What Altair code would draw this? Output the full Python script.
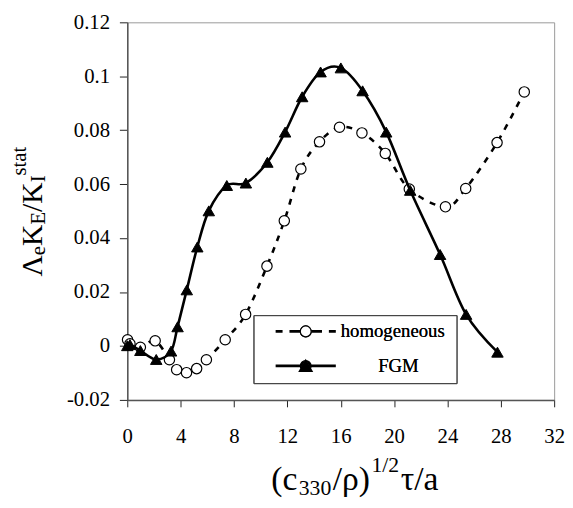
import altair as alt
import pandas as pd

# ---- data ----
hom_x = [0.02, 0.2, 0.98, 2.09, 3.16, 3.70, 4.44, 5.20, 5.93, 7.34, 8.87, 10.47, 11.77,
         13.01, 14.41, 15.91, 17.59, 19.34, 21.14, 23.85, 25.37, 27.72, 29.76]
hom_y = [0.0023, 0.0008, -0.0005, 0.0019, -0.0051, -0.0088, -0.0099, -0.0084, -0.0051,
         0.0023, 0.0117, 0.0296, 0.0464, 0.0656, 0.0757, 0.0811, 0.0790, 0.0714, 0.0582,
         0.0516, 0.0584, 0.0754, 0.0942]
fgm_x = [0.0, 0.2, 0.98, 2.17, 3.28, 3.77, 4.46, 5.25, 6.11, 7.46, 8.89, 10.50, 11.83,
         13.11, 14.49, 16.01, 17.64, 19.41, 21.21, 23.45, 25.40, 27.75]
fgm_y = [0.0001, 0.0005, -0.0017, -0.0050, -0.0019, 0.0071, 0.0208, 0.0367, 0.0501,
         0.0595, 0.0604, 0.0681, 0.0793, 0.0924, 0.1016, 0.1031, 0.0946, 0.0793, 0.0577,
         0.0339, 0.0117, -0.0023]
series_names = ["homogeneous", "FGM"]
line_keys = ["hom_line", "fgm_line"]
x_ticks = [0, 4, 8, 12, 16, 20, 24, 28, 32]
y_ticks = [-0.02, 0, 0.02, 0.04, 0.06, 0.08, 0.1, 0.12]

FONT = "Liberation Serif"
W, H = 433, 383

hom = pd.DataFrame({"x": hom_x, "y": hom_y})
fgm = pd.DataFrame({"x": fgm_x, "y": fgm_y})
ZW, NB = "\u200b", "\u00a0"
label_names = [series_names[0] + NB + ZW, ZW + NB * 8 + series_names[1]]
leg = pd.DataFrame({"la": line_keys, "lb": label_names})

xenc = alt.X("x:Q", scale=alt.Scale(domain=[0, 32], nice=False, zero=False),
             axis=alt.Axis(values=x_ticks, title=None, grid=False, labelFlush=False,
                           labelOverlap=False, tickSize=7, labelPadding=19,
                           labelFontSize=21, labelFont=FONT, labelColor="black",
                           domainColor="#555", domainWidth=1.5, tickColor="#222"))
yenc = alt.Y("y:Q", scale=alt.Scale(domain=[-0.02, 0.12], nice=False, zero=False),
             axis=alt.Axis(values=y_ticks, title=None, grid=False, tickSize=8,
                           labelPadding=10, labelFontSize=21, labelFont=FONT,
                           labelColor="black", domainColor="#555", domainWidth=1.5,
                           tickColor="#222",
                           labelExpr="replace(format(datum.value, '.2~f'), '\u2212', '-')"))

hom_line = alt.Chart(hom).mark_line(interpolate="cardinal", color="black", strokeWidth=2.6,
                                    strokeDash=[6, 7]).encode(x=xenc, y=yenc)
hom_pts = alt.Chart(hom).mark_point(shape="circle", filled=True, fill="white", stroke="black",
                                    strokeWidth=1.2, size=110, opacity=1).encode(x=xenc, y=yenc)
fgm_line = alt.Chart(fgm).mark_line(interpolate="cardinal", color="black",
                                    strokeWidth=2.6).encode(x=xenc, y=yenc)
fgm_pts = alt.Chart(fgm).mark_point(shape="triangle-up", filled=True, fill="black",
                                    stroke="black", strokeWidth=1, size=135,
                                    opacity=1).encode(x=xenc, y=yenc)

# ---- legend: two overlaid native legends (line samples + markers) ----
LX, LY = 128, 297
path_dash = "M-5.55,0L-4.27,0M-3,0L-1,0M1,0L3,0M4.27,0L5.55,0"
path_solid = "M-5.55,0L5.55,0"


def tri_path():
    # nested triangles so a thin stroke renders as a solid black triangle
    verts = [(0.0, -1.1), (1.2, 1.0), (-1.2, 1.0)]
    ix, iy = 0.0, 0.304
    parts = []
    for k in (1.0, 0.77, 0.54, 0.31, 0.1):
        p = [(ix + k * (vx - ix), iy + k * (vy - iy)) for vx, vy in verts]
        parts.append("M%.3f,%.3fL%.3f,%.3fL%.3f,%.3fZ" % (p[0] + p[1] + p[2]))
    return "".join(parts)


common = dict(orient="none", legendX=LX, legendY=LY, title=None, padding=7, rowPadding=15,
              symbolSize=121, labelFontSize=19, labelFont=FONT, labelColor="black",
              symbolOpacity=1, symbolOffset=36.5, labelOffset=26)

leg_lines = alt.Chart(leg).transform_filter("false").mark_point(
    filled=False, stroke="black", strokeWidth=2.6).encode(
    shape=alt.Shape("la:N", scale=alt.Scale(domain=line_keys, range=[path_dash, path_solid]),
                    legend=alt.Legend(labelOpacity=0, labelExpr="'" + NB + "'",
                                      symbolStrokeWidth=2.6, symbolStrokeColor="black",
                                      symbolFillColor="transparent", **common)))

lb_legend = alt.Legend(symbolStrokeWidth=1.2, symbolStrokeColor="black",
                       symbolFillColor="white", strokeColor="#444", **common)
leg_marks = alt.Chart(leg).transform_filter("false").mark_point(
    filled=True, stroke="black", strokeWidth=1.2).encode(
    shape=alt.Shape("lb:N", scale=alt.Scale(domain=label_names, range=["circle", tri_path()]),
                    legend=lb_legend),
    fill=alt.Fill("lb:N", scale=alt.Scale(domain=label_names, range=["white", "black"]),
                  legend=lb_legend))

# ---- titles with sub/superscripts ----
ADV = {"(": 0.333, ")": 0.333, "/": 0.278, "c": 0.444, "a": 0.444, "e": 0.444, "s": 0.389,
       "t": 0.278, "E": 0.611, "I": 0.333, "K": 0.722, "\u039b": 0.722, "\u03c1": 0.5,
       "\u03c4": 0.44, "0": 0.5, "1": 0.5, "2": 0.5, "3": 0.5}


def adv(s, size):
    return sum(ADV.get(ch, 0.5) for ch in s) * size


one = pd.DataFrame({"k": [0]})
texts = []

# x title
FX, SX = 34, 22
x_pieces = [("(c", FX, 0), ("330", SX, 5), ("/\u03c1)", FX, 0), ("1/2", SX, -18),
            ("\u03c4/a", FX, 0)]
cx = 146
for t, sz, sh in x_pieces:
    texts.append(alt.Chart(one).mark_text(text=t, font=FONT, fontSize=sz, align="left",
                                          baseline="alphabetic", color="black",
                                          x=cx, y=474 + sh))
    cx += adv(t, sz) + 1.5

# y title (rotated)
FY, SY = 30, 21
y_pieces = [("\u039b", FY, 0), ("e", SY, 4), ("K", FY, 0), ("E", SY, 4), ("/K", FY, 0),
            ("I", SY, 4), ("stat", SY, -16)]
total = sum(adv(t, sz) for t, sz, _ in y_pieces)
cy = 192 + total / 2
for t, sz, sh in y_pieces:
    texts.append(alt.Chart(one).mark_text(text=t, font=FONT, fontSize=sz, align="left",
                                          baseline="alphabetic", color="black", angle=270,
                                          x=-87 + sh, y=cy))
    cy -= adv(t, sz)

chart = alt.layer(hom_line, hom_pts, fgm_line, fgm_pts, leg_lines, leg_marks, *texts) \
    .resolve_scale(shape="independent").resolve_legend(shape="independent") \
    .properties(width=W, height=H, autosize=alt.AutoSizeParams(type="none"),
                padding={"left": 121, "top": 11, "right": 11, "bottom": 98}) \
    .configure(font=FONT) \
    .configure_axis(labelFont=FONT) \
    .configure_legend(labelFont=FONT) \
    .configure_view(stroke="#999", strokeWidth=1)

chart.save("out.html", embed_options={"renderer": "svg", "actions": False})
